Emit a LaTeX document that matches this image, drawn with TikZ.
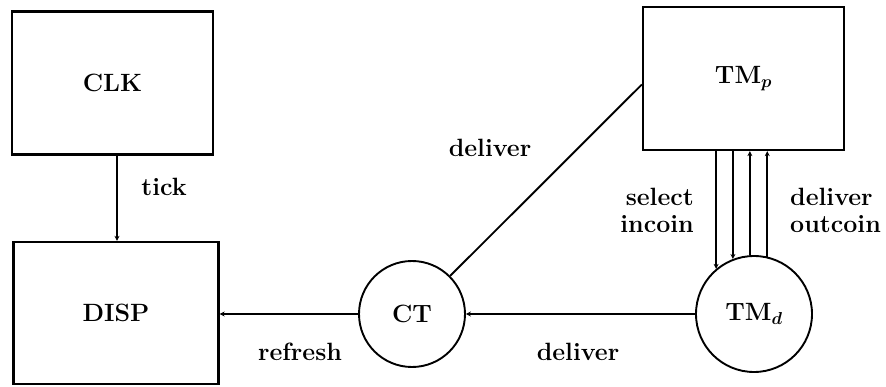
\documentclass[tikz,border=0pt]{standalone}
\usepackage{bm}
\usetikzlibrary{arrows.meta}
\begin{document}
\begin{tikzpicture}[x=1pt,y=-1pt,
  box/.style={draw,line width=2.3pt,minimum width=201pt,minimum height=143pt,inner sep=0pt},
  circ/.style={draw,circle,line width=1.9pt,inner sep=0pt},
  conn/.style={line width=1.9pt},
  tipend/.style={-{Stealth[length=5pt,width=5pt]}},
  lab/.style={inner sep=0pt},
  font=\fontsize{25}{24}\selectfont\bfseries]
\useasboundingbox (0,0) rectangle (886,387);
\node[box] (clk) at (112.5,83) {CLK};
\node[box, minimum width=205pt, minimum height=142pt] (disp) at (116,313) {DISP};
\node[box] (tmp) at (743.5,78.5) {TM$_{\bm p}$};
\node[circ, minimum size=106pt] (ct) at (412,314) {CT};
\node[circ, minimum size=116pt] (tmd) at (754,314) {TM$_{\bm d}$};
% connectors
\draw[conn,tipend] ([xshift=4.5pt]clk.south) -- ([xshift=4.5pt]clk.south |- disp.north);
\draw[conn,tipend] (ct.west) -- (ct.west -| disp.east);
\draw[conn,tipend] (tmd) -- (ct);
\draw[conn] (ct) -- ([yshift=-6pt]tmp.west);
\draw[conn,tipend] (tmd.130 |- tmp.south) -- (tmd.130);
\draw[conn,tipend] (tmd.111 |- tmp.south) -- (tmd.111);
\draw[conn,tipend] (tmd.94) -- (tmd.94 |- tmp.south);
\draw[conn,tipend] (tmd.77) -- (tmd.77 |- tmp.south);
% labels
\node[lab] (ltick) at (164,187) {tick};
\node[lab] (lrefresh) at (300,352) {refresh};
\node[lab] (ldel1) at (578,352) {deliver};
\node[lab] (ldel2) at (490,148) {deliver};
\node[lab, anchor=east, align=right] (lsel) at (694,210) {select\\[3pt]incoin};
\node[lab, anchor=west, align=left] (ldel3) at (790,210) {deliver\\[3pt]outcoin};
\end{tikzpicture}
\end{document}
